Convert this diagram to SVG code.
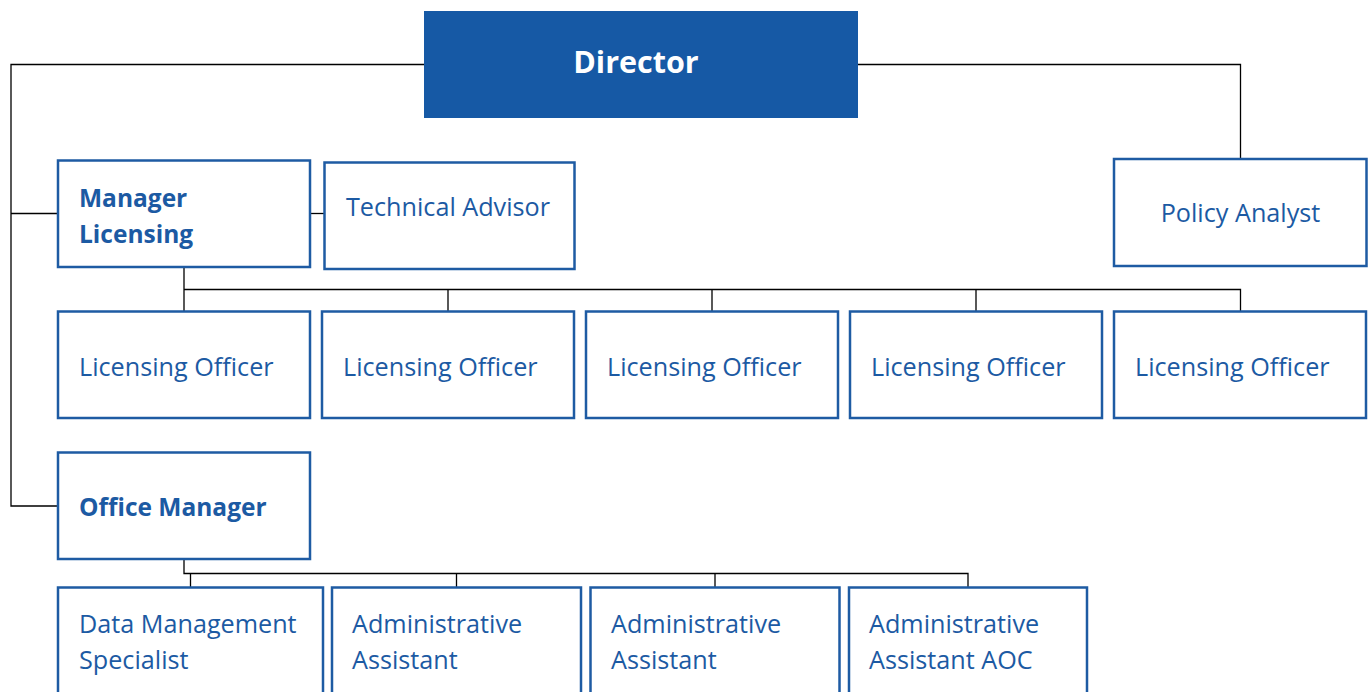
<svg xmlns="http://www.w3.org/2000/svg" width="1372" height="692" viewBox="0 0 1372 692">
<style>
.box{fill:#fff;stroke:#1E5BA3;stroke-width:2.5}
.t{font-family:"Open Sans","Liberation Sans",sans-serif;font-size:25.2px;fill:#1C5AA3}
.b{font-weight:bold;font-size:24.5px}
.c{text-anchor:middle}
.ln{fill:none;stroke:#000;stroke-width:1.3}
</style>
<rect width="1372" height="692" fill="#fff"/>
<g id="connectors" class="ln">
<path d="M424 64.5H11V506H58"/>
<path d="M11 213.5H58"/>
<path d="M310 213.5H324"/>
<path d="M857 64.5H1240.5V159"/>
<path d="M184 267V311M184 289.5H1240.5V311M448 289.5V311M712 289.5V311M976 289.5V311"/>
<path d="M184 559V573.5H968V587M190.5 573.5V587M456.5 573.5V587M715 573.5V587"/>
</g>
<g id="director">
<rect x="424" y="11" width="434" height="107" fill="#1659A5"/>
<text x="636" y="73" class="t b c" style="font-size:30.5px;fill:#fff">Director</text>
</g>
<g id="manager-licensing">
<rect x="58" y="160.5" width="252" height="106.5" class="box"/>
<text x="79" y="207" class="t b">Manager</text>
<text x="79" y="243" class="t b">Licensing</text>
</g>
<g id="technical-advisor">
<rect x="324.5" y="162.5" width="250" height="106.5" class="box"/>
<text x="448" y="216" class="t c">Technical Advisor</text>
</g>
<g id="policy-analyst">
<rect x="1114" y="159" width="252.5" height="107" class="box"/>
<text x="1240.5" y="222" class="t c">Policy Analyst</text>
</g>
<g id="lo1"><rect x="58" y="311.5" width="252" height="106.5" class="box"/><text x="79" y="376" class="t">Licensing Officer</text></g>
<g id="lo2"><rect x="322" y="311.5" width="252" height="106.5" class="box"/><text x="343" y="376" class="t">Licensing Officer</text></g>
<g id="lo3"><rect x="586" y="311.5" width="252" height="106.5" class="box"/><text x="607" y="376" class="t">Licensing Officer</text></g>
<g id="lo4"><rect x="850" y="311.5" width="252" height="106.5" class="box"/><text x="871" y="376" class="t">Licensing Officer</text></g>
<g id="lo5"><rect x="1114" y="311.5" width="252" height="106.5" class="box"/><text x="1135" y="376" class="t">Licensing Officer</text></g>
<g id="office-manager">
<rect x="58" y="452.5" width="252" height="106.5" class="box"/>
<text x="79" y="516" class="t b">Office Manager</text>
</g>
<g id="data-management">
<rect x="58" y="587.5" width="265" height="120" class="box"/>
<text x="79" y="633" class="t">Data Management</text>
<text x="79" y="669" class="t">Specialist</text>
</g>
<g id="admin1">
<rect x="332" y="587.5" width="249" height="120" class="box"/>
<text x="352" y="633" class="t">Administrative</text>
<text x="352" y="669" class="t">Assistant</text>
</g>
<g id="admin2">
<rect x="590.5" y="587.5" width="249" height="120" class="box"/>
<text x="611" y="633" class="t">Administrative</text>
<text x="611" y="669" class="t">Assistant</text>
</g>
<g id="admin-aoc">
<rect x="849" y="587.5" width="238" height="120" class="box"/>
<text x="869" y="633" class="t">Administrative</text>
<text x="869" y="669" class="t">Assistant AOC</text>
</g>
</svg>
